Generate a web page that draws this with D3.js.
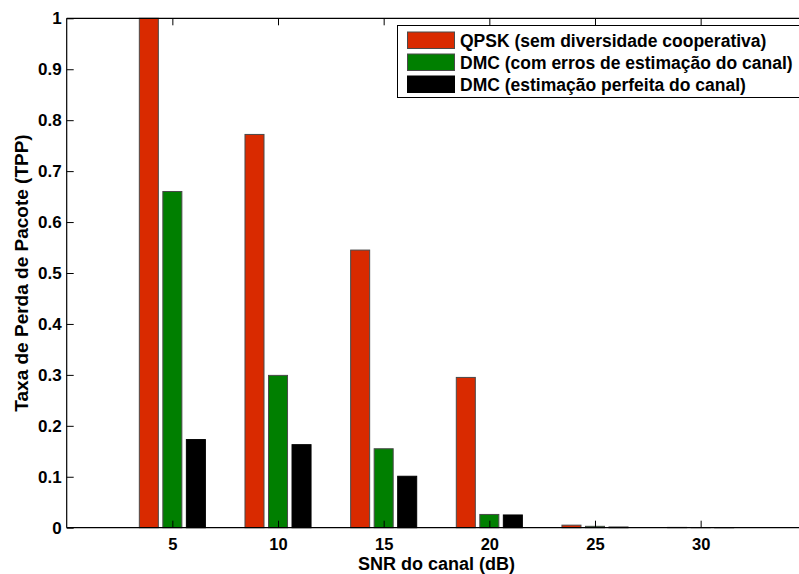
<!DOCTYPE html>
<html>
<head>
<meta charset="utf-8">
<script src="https://cdn.jsdelivr.net/npm/d3@7"></script>
<style>
  html, body { margin: 0; padding: 0; background: #fff; }
  svg { display: block; }
  text { font-family: "Liberation Sans", Arial, Helvetica, sans-serif; font-weight: bold; fill: #000; }
</style>
</head>
<body>
<div id="chart"></div>
<script>
// SNR values (dB) and packet loss rate for each scheme
const snr = [5, 10, 15, 20, 25, 30];
const qpsk = [1.0, 0.772, 0.545, 0.295, 0.005, 0.0006];
const dmcErr = [0.660, 0.299, 0.155, 0.026, 0.0027, 0.0004];
const dmcPerf = [0.173, 0.163, 0.101, 0.025, 0.0012, 0.0003];
const seriesNames = [
  "QPSK (sem diversidade cooperativa)",
  "DMC (com erros de estimação do canal)",
  "DMC (estimação perfeita do canal)"
];
const seriesColors = ["#d92a00", "#007f00", "#000000"];
const yTicks = [0, 0.1, 0.2, 0.3, 0.4, 0.5, 0.6, 0.7, 0.8, 0.9, 1];
const xTicks = [5, 10, 15, 20, 25, 30];

const W = 799, H = 574;
const mLeft = 66.7, mRight = 806.3, mTop = 18.3, mBottom = 527.7;

const svg = d3.select("#chart").append("svg")
  .attr("width", W).attr("height", H);

const x = d3.scaleLinear().domain([0, 35]).range([mLeft, mRight]);
const y = d3.scaleLinear().domain([0, 1]).range([mBottom, mTop]);

const series = [qpsk, dmcErr, dmcPerf];
// group layout in SNR units: three bars around each SNR value
const offsets = [-1.113, 0, 1.113];
const barW = 0.9;

// grouped bars
series.forEach((vals, si) => {
  svg.append("g").selectAll("rect")
    .data(vals.map((v, i) => ({ x: snr[i], v })))
    .join("rect")
    .attr("x", d => x(d.x + offsets[si] - barW / 2))
    .attr("y", d => y(d.v))
    .attr("width", d => x(d.x + offsets[si] + barW / 2) - x(d.x + offsets[si] - barW / 2))
    .attr("height", d => y(0) - y(d.v))
    .attr("fill", seriesColors[si])
    .attr("stroke", si === 2 ? "#000" : "#4a4a4a")
    .attr("stroke-width", 1);
});

// axes
const fmt = d => (d === 0 ? "0" : d === 1 ? "1" : d3.format(".1f")(d));

const yAxis = svg.append("g")
  .attr("transform", `translate(${mLeft},0)`)
  .call(d3.axisLeft(y).tickValues(yTicks).tickFormat(fmt).tickSize(-7).tickPadding(5));

const xAxis = svg.append("g")
  .attr("transform", `translate(0,${mBottom})`)
  .call(d3.axisBottom(x).tickValues(xTicks).tickFormat(d3.format("d")).tickSize(-7).tickPadding(10.5));

yAxis.selectAll("text").attr("font-size", 17);
xAxis.selectAll("text").attr("font-size", 16.5);
[yAxis, xAxis].forEach(g => g.selectAll("text")
  .style("font-family", "Liberation Sans, Arial, sans-serif")
  .style("font-weight", "bold"));

const xTop = svg.append("g")
  .attr("transform", `translate(0,${mTop})`)
  .call(d3.axisTop(x).tickValues(xTicks).tickFormat("").tickSize(-7));

[yAxis, xAxis, xTop].forEach(g => {
  g.select(".domain").attr("stroke", "#000").attr("stroke-width", 1.2);
  g.selectAll(".tick line").attr("stroke", "#000").attr("stroke-width", 1);
});
yAxis.select(".domain").attr("d", `M0,${mBottom}V${mTop}`);
xAxis.select(".domain").attr("d", `M${mLeft},0H${mRight}`);
xTop.select(".domain").attr("d", `M${mLeft},0H${mRight}`);

// axis titles
svg.append("text")
  .attr("x", (mLeft + mRight) / 2).attr("y", 569.5)
  .attr("text-anchor", "middle").attr("font-size", 18)
  .text("SNR do canal (dB)");

svg.append("text")
  .attr("transform", `translate(27.5,${(mTop + mBottom) / 2}) rotate(-90)`)
  .attr("text-anchor", "middle").attr("font-size", 19)
  .text("Taxa de Perda de Pacote (TPP)");

// legend
const lg = svg.append("g");
lg.append("rect")
  .attr("x", 397.5).attr("y", 25.5).attr("width", 410).attr("height", 72)
  .attr("fill", "#fff").attr("stroke", "#000").attr("stroke-width", 1);
seriesNames.forEach((name, i) => {
  const cy = 40 + i * 22;
  lg.append("rect")
    .attr("x", 407.5).attr("y", cy - 8).attr("width", 47).attr("height", 16.5)
    .attr("fill", seriesColors[i]).attr("stroke", i === 2 ? "#000" : "#4a4a4a");
  lg.append("text")
    .attr("x", 460).attr("y", cy + 6.5)
    .attr("font-size", 17.5)
    .text(name);
});
</script>
</body>
</html>
